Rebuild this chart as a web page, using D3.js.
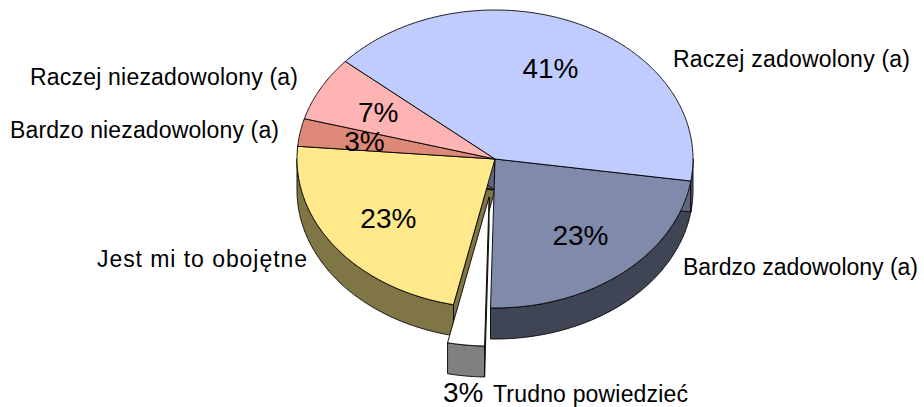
<!DOCTYPE html>
<html>
<head>
<meta charset="utf-8">
<script src="https://cdn.jsdelivr.net/npm/d3@7"></script>
<style>
  body { margin: 0; background: #fff; }
  svg { display: block; }
</style>
</head>
<body>
<div id="chart"></div>
<script>
// slices in clockwise order, starting at the right edge of the pie
const categories = [
  "Bardzo zadowolony (a)",
  "Trudno powiedzieć",
  "Jest mi to obojętne",
  "Bardzo niezadowolony (a)",
  "Raczej niezadowolony (a)",
  "Raczej zadowolony (a)"
];
const values = [23, 3, 23, 3, 7, 41];
const percentLabels = ["23%", "3%", "23%", "3%", "7%", "41%"];
const explodedSlice = "Trudno powiedzieć";

const width = 924,
  height = 407;

const cx = 495,
  cy = 159,
  rx = 198,
  ry = 149,
  depth = 31,
  explodeFrac = 0.257;

const topColors = ["#808AAA", "#FFFFFF", "#FFE98A", "#DE8878", "#FFB4B4", "#C0CCFE"];
const rad = (deg) => (deg * Math.PI) / 180;
const startDeg = 98.5;

// label placement (Excel-style, outside the pie)
const labelLayout = {
  "Raczej zadowolony (a)": { anchor: "start", x: 673, y: 67, w: 237 },
  "Bardzo zadowolony (a)": { anchor: "start", x: 683, y: 275, w: 235 },
  "Raczej niezadowolony (a)": { anchor: "end", x: 298, y: 85, w: 268 },
  "Bardzo niezadowolony (a)": { anchor: "end", x: 279, y: 138, w: 269 },
  "Jest mi to obojętne": { anchor: "end", x: 307, y: 267, w: 210 },
  "Trudno powiedzieć": { anchor: "start", x: 493, y: 402, w: 195, pctX: 443 }
};

const svg = d3
  .select("#chart")
  .append("svg")
  .attr("width", width)
  .attr("height", height)
  .attr("viewBox", `0 0 ${width} ${height}`);

const pie = d3
  .pie()
  .sort(null)
  .value((d) => d.value)
  .startAngle(rad(startDeg))
  .endAngle(rad(startDeg + 360));

const data = categories.map((c, i) => ({
  name: c,
  value: values[i],
  pct: percentLabels[i],
  color: topColors[i],
  side: d3.interpolateRgb(topColors[i], "#000")(0.5)
}));

const arcs = pie(data);

function offsetOf(d) {
  if (d.data.name !== explodedSlice) return [0, 0];
  const mid = (d.startAngle + d.endAngle) / 2;
  return [rx * explodeFrac * Math.sin(mid), -ry * explodeFrac * Math.cos(mid)];
}

function pt(a, r, dz, off) {
  return [cx + off[0] + rx * r * Math.sin(a), cy + off[1] - ry * r * Math.cos(a) + dz];
}

function rim(a0, a1, dz, off) {
  const n = Math.max(2, Math.ceil(Math.abs(a1 - a0) / rad(0.5)));
  return d3.range(n + 1).map((k) => pt(a0 + ((a1 - a0) * k) / n, 1, dz, off));
}

const line = d3.line().curve(d3.curveLinear);
const poly = (pts) => line(pts) + "Z";

function drawSlice(g, d) {
  const off = offsetOf(d);
  const a0 = d.startAngle,
    a1 = d.endAngle;

  // radial walls that face the viewer
  const walls = [];
  if (Math.sin(a0) < 0) walls.push(a0);
  if (Math.sin(a1) > 0) walls.push(a1);
  walls.forEach((a) => {
    g.append("path")
      .attr("d", poly([pt(a, 0, 0, off), pt(a, 1, 0, off), pt(a, 1, depth, off), pt(a, 0, depth, off)]))
      .attr("fill", d.data.side);
  });

  // outer side, only the front half of the rim
  [0, 1].forEach((k) => {
    const lo = Math.max(a0, Math.PI / 2 + 2 * Math.PI * k);
    const hi = Math.min(a1, (3 * Math.PI) / 2 + 2 * Math.PI * k);
    if (hi <= lo) return;
    const top = rim(lo, hi, 0, off);
    const bottom = rim(hi, lo, depth, off);
    g.append("path").attr("d", poly(top.concat(bottom))).attr("fill", d.data.side);
  });
}

function drawTop(g, d) {
  const off = offsetOf(d);
  g.append("path")
    .attr("d", poly([pt(0, 0, 0, off)].concat(rim(d.startAngle, d.endAngle, 0, off))))
    .attr("fill", d.data.color);
}

const pieG = svg
  .append("g")
  .attr("stroke", "#000")
  .attr("stroke-width", 0.9)
  .attr("stroke-linejoin", "round");

const normal = arcs.filter((d) => d.data.name !== explodedSlice);
const exploded = arcs.filter((d) => d.data.name === explodedSlice);

normal.forEach((d) => drawSlice(pieG, d));
normal.forEach((d) => drawTop(pieG, d));
exploded.forEach((d) => {
  drawSlice(pieG, d);
  drawTop(pieG, d);
});

// percent labels inside the slices
const fontFamily = "'Liberation Sans', Arial, Helvetica, sans-serif";

svg
  .append("g")
  .selectAll("text")
  .data(normal)
  .enter()
  .append("text")
  .attr("x", (d) => pt((d.startAngle + d.endAngle) / 2, 0.67, 0, [0, 0])[0])
  .attr("y", (d) => pt((d.startAngle + d.endAngle) / 2, 0.67, 0, [0, 0])[1] + 10)
  .attr("text-anchor", "middle")
  .attr("font-family", fontFamily)
  .attr("font-size", "28px")
  .attr("fill", "#000")
  .text((d) => d.data.pct);

// category labels
const labelG = svg.append("g").attr("font-family", fontFamily).attr("fill", "#000");

arcs.forEach((d) => {
  const L = labelLayout[d.data.name];
  labelG
    .append("text")
    .attr("x", L.x)
    .attr("y", L.y)
    .attr("text-anchor", L.anchor)
    .attr("font-size", "23px")
    .attr("textLength", L.w)
    .attr("lengthAdjust", "spacing")
    .text(d.data.name);
  if (L.pctX !== undefined) {
    labelG
      .append("text")
      .attr("x", L.pctX)
      .attr("y", L.y)
      .attr("font-size", "28px")
      .text(d.data.pct);
  }
});
</script>
</body>
</html>
